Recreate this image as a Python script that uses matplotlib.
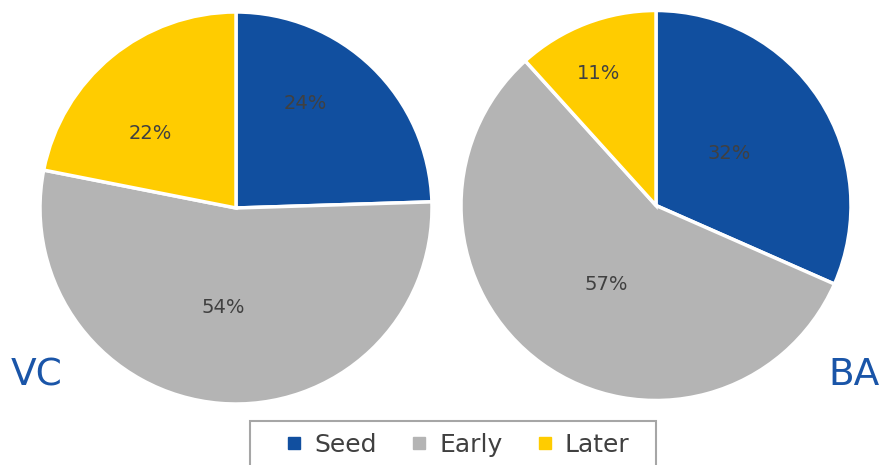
import numpy as np
import matplotlib
matplotlib.use('Agg')
import matplotlib.pyplot as plt
from matplotlib.lines import Line2D
from matplotlib.patches import Rectangle

# 데이터
stages = ['Seed', 'Early', 'Later']
vc_share = [24.5, 53.6, 21.9]
vc_labels = ['24%', '54%', '22%']
ba_share = [31.6, 56.7, 11.7]
ba_labels = ['32%', '57%', '11%']

colors = ['#114f9f', '#b4b4b4', '#ffcc00']
blue_txt = '#1a55a8'
txt_col = '#404040'

W, H = 881, 465
fig = plt.figure(figsize=(W / 100, H / 100), dpi=100)
ax = fig.add_axes([0, 0, 1, 1])

plt.rcParams['font.family'] = ['DejaVu Sans']

# 라벨 위치 (각도, 반지름 비율)
vc_pos = [(56.7, 0.64), (262.6, 0.51), (139.0, 0.58)]
ba_pos = [(35.1, 0.46), (238.0, 0.48), (113.6, 0.74)]


def draw_pie(share, labels, pos, cx, cy, r):
    ax.pie(share, colors=colors, startangle=90, counterclock=False,
           center=(cx, cy), radius=r, frame=True,
           wedgeprops=dict(edgecolor='white', linewidth=2.5))
    for lab, (ang, f) in zip(labels, pos):
        a = np.deg2rad(ang)
        ax.text(cx + f * r * np.cos(a), cy + f * r * np.sin(a), lab,
                ha='center', va='center', fontsize=14, color=txt_col)


draw_pie(vc_share, vc_labels, vc_pos, 236, H - 208, 196)
draw_pie(ba_share, ba_labels, ba_pos, 656, H - 205.5, 195)
ax.set_xlim(0, W)
ax.set_ylim(0, H)
ax.set_aspect('equal')
ax.axis('off')

ax.text(11, H - 375, 'VC', fontsize=27, color=blue_txt, ha='left', va='center')
ax.text(880, H - 375, 'BA', fontsize=27, color=blue_txt, ha='right', va='center')

# 범례 틀 (아래쪽은 잘림)
fig.patches.append(Rectangle((250 / W, -0.05), 406 / W, 0.05 + (H - 421) / H,
                             transform=fig.transFigure, facecolor='white',
                             edgecolor='#a6a6a6', linewidth=1.5, zorder=5))

handles = [Line2D([], [], marker='s', linestyle='none', markersize=8,
                  markerfacecolor=c, markeredgecolor=c) for c in colors]
leg = fig.legend(handles, stages, loc='center', ncol=3,
                 bbox_to_anchor=(458 / W, 1 - 445 / H), fontsize=18,
                 frameon=False, handlelength=0.6,
                 handletextpad=0.5, columnspacing=1.4, borderpad=0.0,
                 labelcolor=txt_col)
leg.set_zorder(6)

fig.savefig('out.png', dpi=100)
